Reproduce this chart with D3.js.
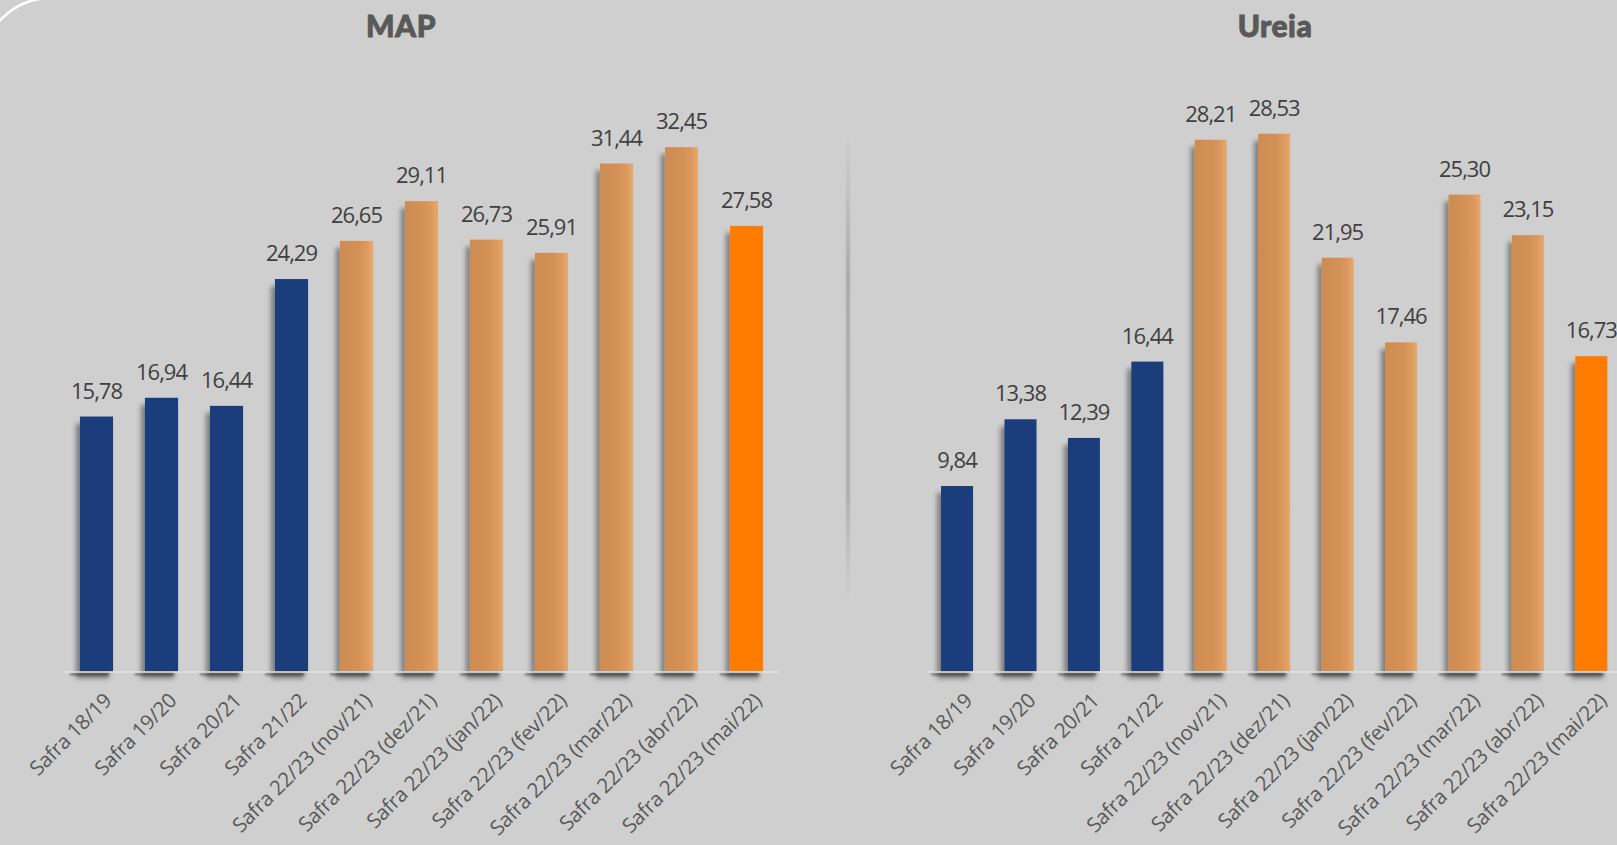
<!DOCTYPE html>
<html lang="pt-BR">
<head>
<meta charset="utf-8">
<script src="https://cdn.jsdelivr.net/npm/d3@7"></script>
<style>
  html, body { margin: 0; padding: 0; background: #cfcfcf; }
  svg { display: block; }
  .title { font-family: Lato, "DejaVu Sans", sans-serif; font-weight: 900; fill: #595959; stroke: #595959; stroke-width: 0.9px; letter-spacing: 0.5px; }
  .value { font-family: "Open Sans", "Noto Sans", sans-serif; fill: #404040; }
  .axis text { font-family: "Open Sans", "Noto Sans", sans-serif; fill: #595959; }
</style>
</head>
<body>
<svg id="chart" width="1617" height="845"></svg>
<script>
const categories = [
  'Safra 18/19', 'Safra 19/20', 'Safra 20/21', 'Safra 21/22',
  'Safra 22/23 (nov/21)', 'Safra 22/23 (dez/21)', 'Safra 22/23 (jan/22)',
  'Safra 22/23 (fev/22)', 'Safra 22/23 (mar/22)', 'Safra 22/23 (abr/22)',
  'Safra 22/23 (mai/22)'
];
// kind of bar per category: past seasons, monthly 22/23 estimates, latest month
const barKinds = ['past', 'past', 'past', 'past', 'month', 'month', 'month', 'month', 'month', 'month', 'latest'];
const mapValues = [15.78, 16.94, 16.44, 24.29, 26.65, 29.11, 26.73, 25.91, 31.44, 32.45, 27.58];
const ureiaValues = [9.84, 13.38, 12.39, 16.44, 28.21, 28.53, 21.95, 17.46, 25.30, 23.15, 16.73];

const ptBR = d3.formatLocale({ decimal: ',', thousands: '.', grouping: [3], currency: ['R$', ''] });
const fmt = ptBR.format('.2f');

const svg = d3.select('#chart');
const defs = svg.append('defs');

// soft shadow cast to the left of every bar
const sh = defs.append('filter').attr('id', 'barShadow')
  .attr('x', '-50%').attr('y', '-10%').attr('width', '200%').attr('height', '120%');
sh.append('feDropShadow').attr('dx', -4).attr('dy', 7).attr('stdDeviation', 2.5)
  .attr('flood-color', '#000').attr('flood-opacity', 0.4);

const blur = defs.append('filter').attr('id', 'blur')
  .attr('x', '-50%').attr('y', '-200%').attr('width', '200%').attr('height', '500%');
blur.append('feGaussianBlur').attr('stdDeviation', 1.2);

const softBlur = defs.append('filter').attr('id', 'softBlur')
  .attr('x', '-300%').attr('y', '-5%').attr('width', '700%').attr('height', '110%');
softBlur.append('feGaussianBlur').attr('stdDeviation', 0.8);

const tan = defs.append('linearGradient').attr('id', 'tanGrad')
  .attr('x1', '0%').attr('x2', '100%').attr('y1', '0%').attr('y2', '0%');
tan.append('stop').attr('offset', '0%').attr('stop-color', '#cf8c51');
tan.append('stop').attr('offset', '55%').attr('stop-color', '#d49156');
tan.append('stop').attr('offset', '80%').attr('stop-color', '#dc9a5f');
tan.append('stop').attr('offset', '100%').attr('stop-color', '#e8a86c');

const divGrad = defs.append('linearGradient').attr('id', 'divGrad')
  .attr('x1', '0%').attr('x2', '0%').attr('y1', '0%').attr('y2', '100%');
divGrad.append('stop').attr('offset', '0%').attr('stop-color', '#a8a8a8').attr('stop-opacity', 0);
divGrad.append('stop').attr('offset', '30%').attr('stop-color', '#9c9c9c').attr('stop-opacity', 1);
divGrad.append('stop').attr('offset', '75%').attr('stop-color', '#a0a0a0').attr('stop-opacity', 1);
divGrad.append('stop').attr('offset', '100%').attr('stop-color', '#a8a8a8').attr('stop-opacity', 0);

const fillFor = k => k === 'past' ? '#1c3d7b' : k === 'latest' ? '#ff7b00' : 'url(#tanGrad)';

// white rounded corner of the slide frame
svg.append('path')
  .attr('d', 'M-18,67 A69,69 0 0 1 51,-2')
  .attr('fill', 'none').attr('stroke', '#ffffff').attr('stroke-width', 2.5);

// separator between both charts
svg.append('rect')
  .attr('x', 846.5).attr('y', 130).attr('width', 3).attr('height', 474)
  .attr('fill', 'url(#divGrad)').attr('filter', 'url(#softBlur)');

function drawPanel(cfg) {
  const g = svg.append('g');
  const baseY = 671.5;

  const x = d3.scaleBand().domain(categories)
    .range(cfg.xRange).paddingInner(cfg.padInner).paddingOuter(0.245);
  const y = d3.scaleLinear().domain([0, cfg.yMax]).range([baseY, 106]);

  g.append('text').attr('class', 'title')
    .attr('x', cfg.titleX).attr('y', 37)
    .attr('text-anchor', 'middle').style('font-size', '30px')
    .text(cfg.title);

  const rows = categories.map((c, i) => ({ cat: c, value: cfg.values[i], kind: barKinds[i] }));

  // shadow just under the baseline
  g.append('g').selectAll('rect')
    .data(rows).join('rect')
    .attr('x', d => x(d.cat) - 10)
    .attr('y', baseY + 1.5)
    .attr('width', x.bandwidth() + 6)
    .attr('height', 2.5)
    .attr('fill', '#777')
    .attr('filter', 'url(#blur)');

  g.append('g').selectAll('rect')
    .data(rows).join('rect')
    .attr('x', d => x(d.cat))
    .attr('y', d => y(d.value))
    .attr('width', x.bandwidth())
    .attr('height', d => baseY - y(d.value))
    .attr('fill', d => fillFor(d.kind))
    .attr('filter', 'url(#barShadow)');

  g.append('g').selectAll('text')
    .data(rows).join('text')
    .attr('class', 'value')
    .attr('x', d => x(d.cat) + x.bandwidth() / 2)
    .attr('y', d => y(d.value) - 18)
    .attr('text-anchor', 'middle')
    .style('font-size', '22px')
    .style('letter-spacing', '-1px')
    .text(d => fmt(d.value));

  const axis = g.append('g').attr('class', 'axis')
    .attr('transform', `translate(0,${baseY})`)
    .call(d3.axisBottom(x).tickSize(0).tickSizeOuter(0));

  axis.select('.domain').attr('stroke', '#e2e2e2').attr('stroke-width', 1.5);
  axis.selectAll('.tick text')
    .attr('x', 0).attr('y', 0).attr('dy', '0.72em')
    .attr('text-anchor', 'end')
    .attr('transform', 'translate(6,20) rotate(-45)')
    .style('font-size', '20.5px')
    .style('letter-spacing', '-0.3px');
}

drawPanel({ title: 'MAP', titleX: 401, values: mapValues, yMax: 35, xRange: [64, 779], padInner: 0.49 });
drawPanel({ title: 'Ureia', titleX: 1275, values: ureiaValues, yMax: 30, xRange: [925.5, 1622.9], padInner: 0.495 });
</script>
</body>
</html>
